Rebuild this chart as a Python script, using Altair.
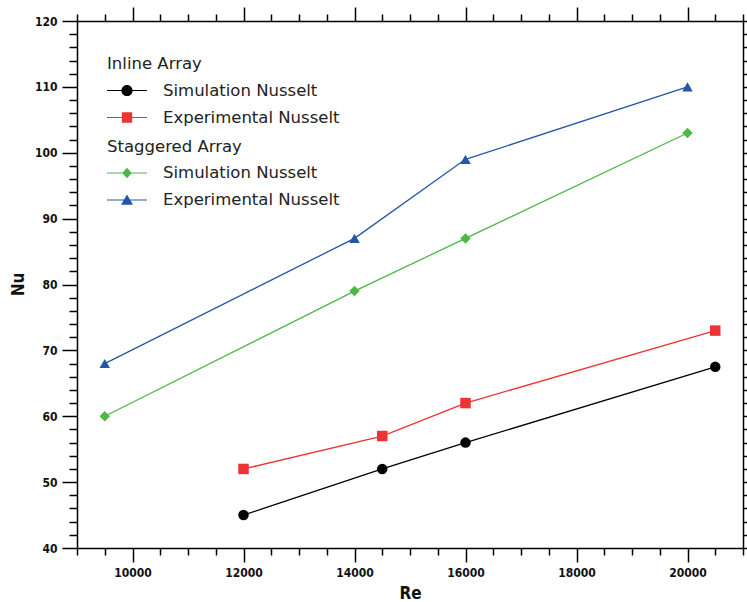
import altair as alt
import pandas as pd

# ---- data ----
re_inline = [12000, 14500, 16000, 20500]
nu_inline_sim = [45, 52, 56, 67.5]
nu_inline_exp = [52, 57, 62, 73]

re_stag = [9500, 14000, 16000, 20000]
nu_stag_sim = [60, 79, 87, 103]
nu_stag_exp = [68, 87, 99, 110]

labels = ["Simulation Nusselt", "Experimental Nusselt"]
groups = ["Inline Array", "Staggered Array"]

series_names = ["Inline Sim", "Inline Exp", "Staggered Sim", "Staggered Exp"]
series_colors = ["#000000", "#ee3333", "#4db848", "#2456a8"]
series_shapes = ["circle", "square", "diamond", "triangle-up"]

rows = []
for name, grp, lab, xs, ys in [
    (series_names[0], groups[0], labels[0], re_inline, nu_inline_sim),
    (series_names[1], groups[0], labels[1], re_inline, nu_inline_exp),
    (series_names[2], groups[1], labels[0], re_stag, nu_stag_sim),
    (series_names[3], groups[1], labels[1], re_stag, nu_stag_exp),
]:
    for x, y in zip(xs, ys):
        rows.append({"Re": x, "Nu": y, "series": name, "group": grp, "label": lab})
df = pd.DataFrame(rows)

# legend symbols: a line segment with a marker in the middle (unit square -1..1)
LINE = "M-1,-0.03H1V0.03H-1Z"
P_CIRCLE = LINE + " M0.28,0A0.28,0.28,0,1,1,-0.28,0A0.28,0.28,0,1,1,0.28,0Z"
P_SQUARE = LINE + " M-0.26,-0.26H0.26V0.26H-0.26Z"
P_DIAMOND = LINE + " M0,-0.26L0.24,0L0,0.26L-0.24,0Z"
P_TRIANGLE = LINE + " M0,-0.28L0.3,0.24H-0.3Z"

TICK_FONT = "DejaVu Sans Condensed, DejaVu Sans"
TEXT_FONT = "DejaVu Sans"

x_scale = alt.Scale(domain=[9000, 21000], nice=False, zero=False)
y_scale = alt.Scale(domain=[40, 120], nice=False, zero=False)
x_vals = list(range(9000, 21001, 500))
y_vals = list(range(40, 121, 2))

x_major = "datum.value % 2000 === 0"
y_major = "datum.value % 10 === 0"

common_axis = dict(
    grid=False,
    domainColor="black",
    domainWidth=1.5,
    tickColor="black",
    tickWidth=1.5,
    labelOverlap=False,
    labelFlush=False,
    labelBound=False,
)

x_axis_bottom = alt.Axis(
    orient="bottom",
    values=x_vals,
    format="d",
    labelExpr=f"{x_major} ? datum.label : ''",
    tickSize={"condition": {"test": x_major, "value": 14}, "value": 7},
    labelFont=TICK_FONT,
    labelFontSize=12,
    labelFontWeight="bold",
    labelColor="#111",
    labelPadding=5,
    title="Re",
    titleFont=TICK_FONT,
    titleFontSize=17,
    titleFontWeight="bold",
    titleColor="#111",
    titleX=333,
    titleY=45,
    titleBaseline="middle",
    **common_axis,
)
y_axis_left = alt.Axis(
    orient="left",
    values=y_vals,
    format="d",
    labelExpr=f"{y_major} ? datum.label : ''",
    tickSize={"condition": {"test": y_major, "value": 15}, "value": 8},
    labelFont=TICK_FONT,
    labelFontSize=12,
    labelFontWeight="bold",
    labelColor="#111",
    labelPadding=5,
    title="Nu",
    titleFont=TICK_FONT,
    titleFontSize=17,
    titleFontWeight="bold",
    titleColor="#111",
    titleX=-59,
    titleY=263,
    titleAngle=270,
    titleBaseline="middle",
    **common_axis,
)
x_axis_top = alt.Axis(
    orient="top",
    values=x_vals,
    labels=False,
    title=None,
    tickSize={"condition": {"test": x_major, "value": 14}, "value": 7},
    **common_axis,
)
y_axis_right = alt.Axis(
    orient="right",
    values=y_vals,
    labels=False,
    title=None,
    tickSize={"condition": {"test": y_major, "value": 15}, "value": 8},
    **common_axis,
)

base = alt.Chart(df)

lines = base.mark_line(strokeWidth=1.3).encode(
    x=alt.X("Re:Q", scale=x_scale, axis=x_axis_bottom),
    y=alt.Y("Nu:Q", scale=y_scale, axis=y_axis_left),
    color=alt.Color("series:N", scale=alt.Scale(domain=series_names, range=series_colors), legend=None),
    detail="series:N",
)

points = base.mark_point(filled=True, opacity=1, size=110).encode(
    x=alt.X("Re:Q", scale=x_scale, axis=None),
    y=alt.Y("Nu:Q", scale=y_scale, axis=None),
    color=alt.Color("series:N", scale=alt.Scale(domain=series_names, range=series_colors), legend=None),
    shape=alt.Shape("series:N", scale=alt.Scale(domain=series_names, range=series_shapes), legend=None),
)

frame = base.transform_filter("false").mark_point().encode(
    x=alt.X("Re:Q", scale=x_scale, axis=x_axis_top),
    y=alt.Y("Nu:Q", scale=y_scale, axis=y_axis_right),
)


def legend_for(title, ly):
    return alt.Legend(
        title=title,
        orient="none",
        legendX=30,
        legendY=ly,
        padding=0,
        titleFont=TEXT_FONT,
        titleFontSize=16.5,
        titleFontWeight="normal",
        titleColor="#222",
        titlePadding=8,
        titleLimit=0,
        labelFont=TEXT_FONT,
        labelFontSize=16.5,
        labelColor="#222",
        labelOffset=16,
        labelLimit=0,
        symbolSize=1600,
        symbolStrokeWidth=0,
        symbolOpacity=1,
        clipHeight=20,
        rowPadding=7,
    )


leg_inline = base.transform_filter("false").mark_point(filled=True, opacity=1).encode(
    color=alt.Color("label:N", scale=alt.Scale(domain=labels, range=series_colors[:2]),
                    legend=legend_for(groups[0], 35)),
    shape=alt.Shape("label:N", scale=alt.Scale(domain=labels, range=[P_CIRCLE, P_SQUARE]),
                    legend=legend_for(groups[0], 35)),
)

leg_stag = base.transform_filter("false").mark_point(filled=True, opacity=1).encode(
    color=alt.Color("label:N", scale=alt.Scale(domain=labels, range=series_colors[2:]),
                    legend=legend_for(groups[1], 117.5)),
    shape=alt.Shape("label:N", scale=alt.Scale(domain=labels, range=[P_DIAMOND, P_TRIANGLE]),
                    legend=legend_for(groups[1], 117.5)),
)

chart = (
    alt.layer(lines, points, frame, leg_inline, leg_stag)
    .resolve_scale(color="independent", shape="independent")
    .properties(
        width=666,
        height=527,
        padding={"left": 77, "top": 21, "right": 4, "bottom": 54},
        autosize=alt.AutoSizeParams(type="none"),
        background="white",
    )
    .configure_view(stroke=None)
)

chart.save("out.html", embed_options={"renderer": "svg", "actions": False})
